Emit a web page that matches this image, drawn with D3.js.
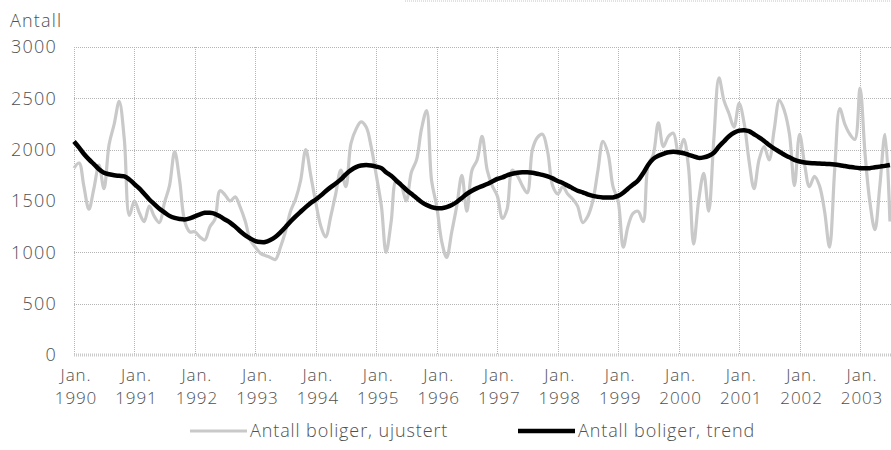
<!DOCTYPE html>
<html>
<head>
<meta charset="utf-8">
<script src="https://cdn.jsdelivr.net/npm/d3@7"></script>
<style>
  body { margin: 0; background: #fff; }
  svg text { font-family: "Open Sans", sans-serif; font-weight: 300; fill: #505050; }
</style>
</head>
<body>
<script>
// monthly values, Jan 1990 - Jul 2003
var startYear = 1990;
var ujustert = [
  1820,1870,1650,1420,1620,1850,1620,2050,2250,2470,2100,1360,   // 1990
  1500,1380,1300,1450,1350,1290,1480,1650,1980,1700,1300,1200,   // 1991
  1200,1150,1120,1250,1320,1600,1560,1500,1540,1440,1300,1120,   // 1992
  1050,990,970,950,930,1050,1200,1400,1520,1700,2000,1750,       // 1993
  1480,1250,1150,1350,1570,1800,1640,2060,2200,2270,2220,2030,   // 1994
  1750,1450,1000,1300,1700,1650,1500,1780,1900,2200,2380,1700,   // 1995
  1450,1100,950,1200,1450,1750,1400,1800,1900,2130,1800,1650,    // 1996
  1550,1330,1420,1800,1750,1650,1580,2000,2120,2150,1980,1650,   // 1997
  1570,1640,1570,1520,1450,1290,1350,1500,1800,2080,1960,1640,   // 1998
  1500,1050,1250,1380,1400,1300,1850,1950,2260,2030,2130,2160,   // 1999
  1960,2100,1830,1080,1500,1770,1400,2100,2700,2480,2350,2220,   // 2000
  2450,2250,1900,1620,1900,2030,1900,2200,2480,2380,2150,1650,   // 2001
  2150,1850,1640,1740,1650,1400,1050,1800,2400,2250,2150,2100,   // 2002
  2600,1950,1500,1220,1650,2150,1300                             // 2003
];
var trend = [
  2080,2020,1960,1905,1860,1810,1775,1760,1750,1745,1740,1710,
  1665,1620,1570,1515,1470,1425,1390,1355,1335,1325,1320,1330,
  1350,1370,1385,1385,1375,1350,1320,1290,1250,1205,1165,1135,
  1110,1100,1100,1120,1150,1195,1245,1300,1350,1395,1440,1480,
  1515,1555,1595,1635,1670,1710,1760,1800,1830,1845,1850,1845,
  1835,1820,1780,1745,1700,1655,1610,1570,1530,1490,1460,1440,
  1430,1430,1440,1460,1490,1530,1570,1600,1625,1645,1665,1690,
  1715,1730,1750,1765,1775,1780,1780,1775,1765,1755,1740,1720,
  1695,1675,1650,1625,1600,1585,1565,1550,1540,1535,1535,1535,
  1550,1580,1620,1660,1700,1770,1850,1910,1940,1960,1975,1980,
  1975,1965,1950,1935,1920,1925,1940,1970,2030,2080,2130,2165,
  2185,2190,2180,2150,2120,2085,2045,2010,1980,1950,1925,1900,
  1885,1875,1870,1868,1865,1862,1860,1855,1848,1840,1832,1825,
  1820,1818,1820,1828,1835,1842,1850
];
var yTicks = [0,500,1000,1500,2000,2500,3000];
var yearTicks = d3.range(1990, 2004);
var seriesNames = ["Antall boliger, ujustert", "Antall boliger, trend"];
var yTitle = "Antall";

function monthDate(i){ return new Date(startYear, i, 1); }

var W = 891, H = 450;
var plotLeft = 74, plotTop = 47, plotBottom = 355, plotRight = 891;

var x = d3.scaleTime()
  .domain([new Date(1990,0,1), new Date(2003,0,1)])
  .range([74, 860]);
var y = d3.scaleLinear().domain([0,3000]).range([plotBottom, plotTop]);

var svg = d3.select("body").append("svg").attr("width", W).attr("height", H);

// faint dotted rule at very top (remnant of frame)
svg.append("line")
  .attr("x1", 405).attr("x2", plotRight).attr("y1", 1).attr("y2", 1)
  .attr("stroke", "#c4c4c4").attr("stroke-dasharray", "1,1");

// horizontal grid
svg.append("g").selectAll("line.h")
  .data(yTicks.filter(function(d){return d > 0;}))
  .enter().append("line")
    .attr("class", "h")
    .attr("x1", plotLeft).attr("x2", plotRight)
    .attr("y1", function(d){return Math.round(y(d)) + 0.5;})
    .attr("y2", function(d){return Math.round(y(d)) + 0.5;})
    .attr("stroke", "#b5b5b5").attr("stroke-dasharray", "1,1");

// vertical grid
svg.append("g").selectAll("line.v")
  .data(yearTicks)
  .enter().append("line")
    .attr("class", "v")
    .attr("x1", function(d){return Math.round(x(new Date(d,0,1))) + 0.5;})
    .attr("x2", function(d){return Math.round(x(new Date(d,0,1))) + 0.5;})
    .attr("y1", plotTop).attr("y2", plotBottom)
    .attr("stroke", "#b5b5b5").attr("stroke-dasharray", "1,1");

// zero line (thick dotted band)
svg.append("line")
  .attr("x1", plotLeft).attr("x2", plotRight).attr("y1", y(0)).attr("y2", y(0))
  .attr("stroke", "#cacaca").attr("stroke-width", 3).attr("stroke-dasharray", "1,1");

// y labels
svg.append("g").selectAll("text")
  .data(yTicks)
  .enter().append("text")
    .attr("x", 57).attr("y", function(d){return y(d);})
    .attr("dy", "0.36em")
    .attr("text-anchor", "end")
    .attr("font-size", 18)
    .attr("letter-spacing", 1.2)
    .text(function(d){return d;});

svg.append("text")
  .attr("x", 10).attr("y", 27)
  .attr("font-size", 18)
  .attr("letter-spacing", 1.2)
  .text(yTitle);

// x labels
var xl = svg.append("g").selectAll("text")
  .data(yearTicks)
  .enter().append("text")
    .attr("text-anchor", "middle")
    .attr("font-size", 17)
    .attr("letter-spacing", 0.9);
xl.append("tspan")
  .attr("x", function(d){return x(new Date(d,0,1)) + 2;})
  .attr("y", 381)
  .text("Jan.");
xl.append("tspan")
  .attr("x", function(d){return x(new Date(d,0,1)) + 2;})
  .attr("y", 404)
  .text(function(d){return d;});

var line = d3.line()
  .x(function(d,i){return x(monthDate(i));})
  .y(function(d){return y(d);})
  .curve(d3.curveCatmullRom);

svg.append("path")
  .datum(ujustert)
  .attr("d", line)
  .attr("fill", "none")
  .attr("stroke", "#c9c9c9")
  .attr("stroke-width", 3.2);

svg.append("path")
  .datum(trend)
  .attr("d", line)
  .attr("fill", "none")
  .attr("stroke", "#000")
  .attr("stroke-width", 4.5);

// legend
var leg = [
  {x1:190, x2:247, tx:250, color:"#c9c9c9", w:3.2},
  {x1:518, x2:575, tx:578, color:"#000", w:4.5}
];
svg.append("g").selectAll("line")
  .data(leg)
  .enter().append("line")
    .attr("x1", function(d){return d.x1;}).attr("x2", function(d){return d.x2;})
    .attr("y1", 431).attr("y2", 431)
    .attr("stroke", function(d){return d.color;})
    .attr("stroke-width", function(d){return d.w;});
svg.append("g").selectAll("text")
  .data(leg)
  .enter().append("text")
    .attr("x", function(d){return d.tx;})
    .attr("y", 437)
    .attr("font-size", 18)
    .attr("letter-spacing", 0.9)
    .text(function(d,i){return seriesNames[i];});
</script>
</body>
</html>
